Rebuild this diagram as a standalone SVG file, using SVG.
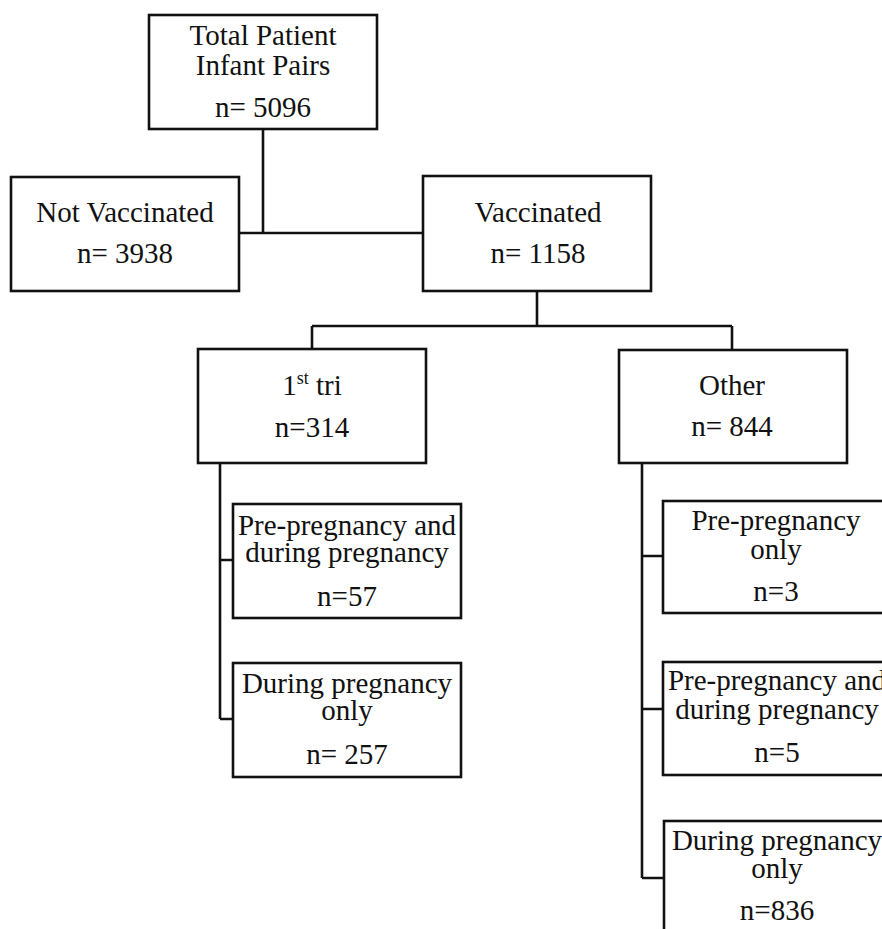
<svg xmlns="http://www.w3.org/2000/svg" width="882" height="929" viewBox="0 0 882 929">
<style>
.box{fill:#fff;stroke:#111;stroke-width:2.6}
.ln{fill:none;stroke:#111;stroke-width:2.6}
text{font-family:"Liberation Serif","Times New Roman",serif;font-size:29px;fill:#111;text-anchor:middle}
</style>
<rect width="882" height="929" fill="#fff"/>
<g id="connectors">
<path class="ln" d="M263,129 V233 M239,233 H423"/>
<path class="ln" d="M537,291 V326 M312,326 H732 M312,326 V349 M732,326 V350"/>
<path class="ln" d="M220,463 V719 M220,560 H233 M220,719 H233"/>
<path class="ln" d="M642,463 V878 M642,556 H663 M642,709 H663 M642,878 H664"/>
</g>
<g id="total">
<rect class="box" x="149" y="15" width="228" height="114"/>
<text x="263" y="45">Total Patient</text>
<text x="263" y="75">Infant Pairs</text>
<text x="263" y="117">n= 5096</text>
</g>
<g id="notvacc">
<rect class="box" x="11" y="177" width="228" height="114"/>
<text x="125" y="222">Not Vaccinated</text>
<text x="125" y="263">n= 3938</text>
</g>
<g id="vacc">
<rect class="box" x="423" y="176" width="228" height="115"/>
<text x="538" y="222">Vaccinated</text>
<text x="538" y="263">n= 1158</text>
</g>
<g id="tri1">
<rect class="box" x="198" y="349" width="228" height="114"/>
<text x="312" y="395">1<tspan font-size="18" dy="-11">st</tspan><tspan dy="11"> tri</tspan></text>
<text x="312" y="437">n=314</text>
</g>
<g id="other">
<rect class="box" x="619" y="350" width="228" height="113"/>
<text x="732" y="395">Other</text>
<text x="732" y="436">n= 844</text>
</g>
<g id="l-prepreg-during">
<rect class="box" x="233" y="504" width="228" height="114"/>
<text x="347" y="535">Pre-pregnancy and</text>
<text x="347" y="562">during pregnancy</text>
<text x="347" y="606">n=57</text>
</g>
<g id="l-during">
<rect class="box" x="233" y="663" width="228" height="114"/>
<text x="347" y="693">During pregnancy</text>
<text x="347" y="720">only</text>
<text x="347" y="764">n= 257</text>
</g>
<g id="r-prepreg-only">
<rect class="box" x="663" y="501" width="240" height="112"/>
<text x="776" y="530">Pre-pregnancy</text>
<text x="776" y="559">only</text>
<text x="776" y="601">n=3</text>
</g>
<g id="r-prepreg-during">
<rect class="box" x="663" y="662" width="240" height="113"/>
<text x="777" y="690">Pre-pregnancy and</text>
<text x="777" y="719">during pregnancy</text>
<text x="777" y="762">n=5</text>
</g>
<g id="r-during">
<rect class="box" x="664" y="821" width="240" height="130"/>
<text x="777" y="850">During pregnancy</text>
<text x="777" y="878">only</text>
<text x="777" y="920">n=836</text>
</g>
</svg>
